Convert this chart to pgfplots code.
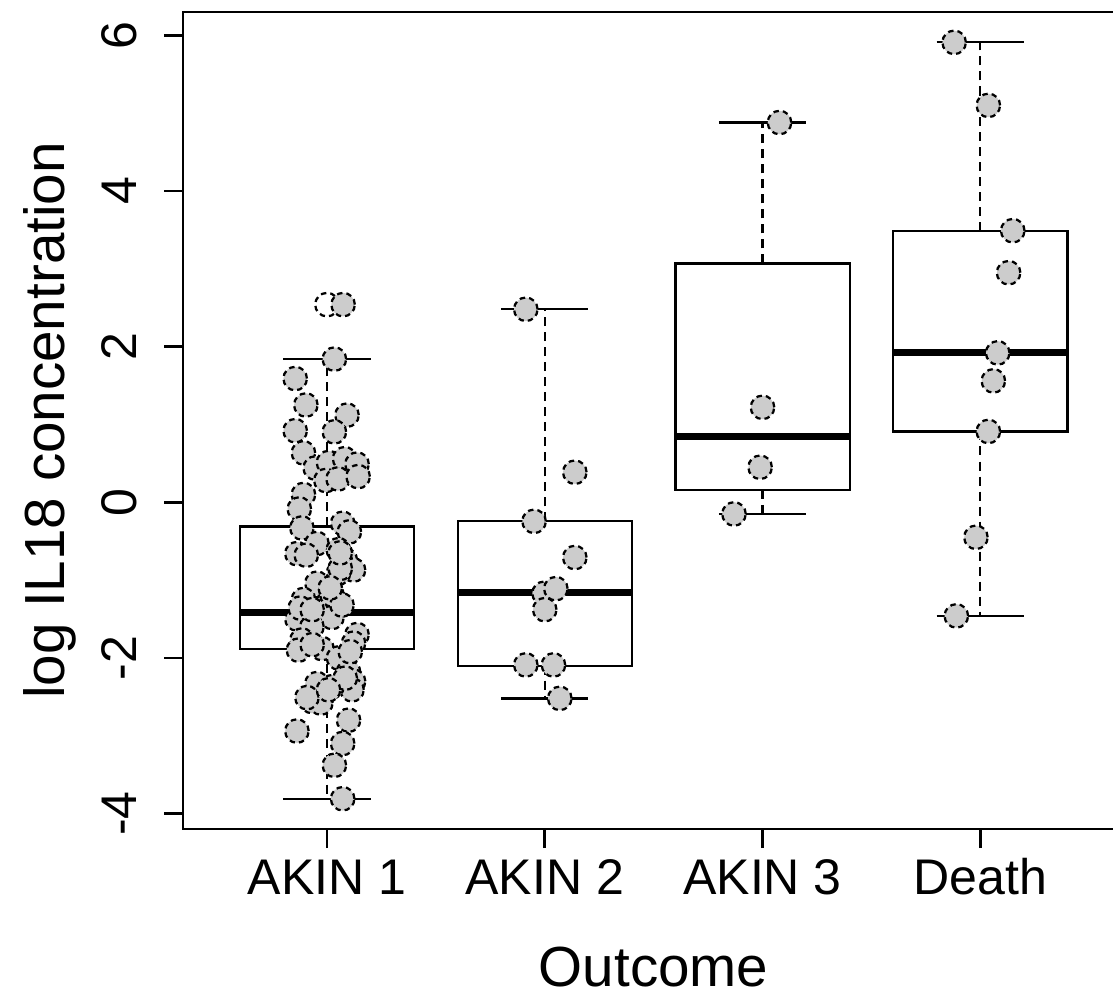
\documentclass[border=0pt]{standalone}
\usepackage{fontspec}
\setmainfont{Liberation Sans}
\usepackage{pgfplots}
\pgfplotsset{compat=1.18}
\usepgfplotslibrary{statistics}
\definecolor{ptgray}{RGB}{204,204,204}

% jittered points, one table per outcome group
\pgfplotstableread{
x y
1.074 2.54
1.034 1.84
0.854 1.59
0.903 1.25
1.092 1.12
0.854 0.92
1.034 0.905
0.892 0.635
0.946 0.44
1.007 0.51
1.081 0.56
1.138 0.49
0.995 0.28
1.051 0.30
1.143 0.33
0.892 0.10
0.873 -0.086
0.885 -0.33
1.072 -0.27
1.103 -0.38
0.954 -0.53
0.862 -0.66
0.905 -0.68
1.052 -0.61
1.084 -0.74
1.122 -0.87
1.053 -0.91
0.954 -1.04
1.015 -1.17
0.892 -1.25
1.053 -1.30
0.969 -1.36
0.862 -1.50
1.023 -1.48
0.931 -1.60
0.885 -1.77
0.869 -1.90
0.977 -1.88
1.138 -1.70
1.122 -1.81
1.053 -2.00
1.099 -2.18
0.954 -2.33
1.122 -2.30
1.115 -2.41
0.931 -2.56
0.972 -2.58
0.862 -2.94
1.099 -2.80
1.072 -3.10
1.034 -3.38
1.072 -3.81
1.023 -1.19
1.069 -1.32
0.877 -1.36
1.107 -1.92
1.023 -2.37
0.908 -2.51
1.084 -2.26
0.932 -1.38
0.932 -1.83
1.007 -2.41
1.061 -0.85
1.015 -1.10
1.061 -0.65
}\akinone
\pgfplotstableread{
x y
1.913 2.48
2.138 0.386
1.951 -0.245
2.138 -0.71
1.997 -1.17
2.051 -1.11
2.000 -1.38
1.913 -2.09
2.040 -2.09
2.069 -2.52
}\akintwo
\pgfplotstableread{
x y
3.078 4.88
3.000 1.22
2.989 0.45
2.869 -0.15
}\akinthree
\pgfplotstableread{
x y
3.880 5.91
4.037 5.10
4.149 3.49
4.130 2.95
4.080 1.92
4.060 1.56
4.037 0.91
3.980 -0.45
3.890 -1.46
}\death

\begin{document}
\begin{tikzpicture}
\begin{axis}[
    name=ax,
    scale only axis,
    width=187.9pt, height=163.2pt,
    xmin=0.34, xmax=4.66, ymin=-4.2, ymax=6.3,
    xtick={1,2,3,4}, xticklabels={AKIN 1,AKIN 2,AKIN 3,Death},
    ytick={-4,-2,0,2,4,6}, yticklabels={-4,-2,0,2,4,6},
    tick align=outside, major tick length=3.8pt,
    xtick pos=left, ytick pos=left,
    tick style={line width=0.5pt, black},
    axis line style={line width=0.5pt},
    ticklabel style={font=\fontsize{10}{12}\selectfont},
    xticklabel style={anchor=base},
    yticklabel style={rotate=90, anchor=base},
    xticklabel shift=9.2pt, yticklabel shift=5.6pt,
    boxplot/draw direction=y,
    boxplot/box extend=0.8,
    boxplot/whisker extend=0.4,
    boxplot/every box/.style={line width=0.45pt},
    boxplot/every median/.style={line width=1.4pt},
    boxplot/draw/lower whisker/.code={%
        \draw[line width=0.45pt, dash pattern=on 1.8pt off 1.2pt]
            (boxplot cs:\pgfplotsboxplotvalue{lower quartile}) --
            (boxplot cs:\pgfplotsboxplotvalue{lower whisker});
        \draw[line width=0.45pt, solid]
            (boxplot whisker cs:\pgfplotsboxplotvalue{lower whisker},0) --
            (boxplot whisker cs:\pgfplotsboxplotvalue{lower whisker},1);
    },
    boxplot/draw/upper whisker/.code={%
        \draw[line width=0.45pt, dash pattern=on 1.8pt off 1.2pt]
            (boxplot cs:\pgfplotsboxplotvalue{upper quartile}) --
            (boxplot cs:\pgfplotsboxplotvalue{upper whisker});
        \draw[line width=0.45pt, solid]
            (boxplot whisker cs:\pgfplotsboxplotvalue{upper whisker},0) --
            (boxplot whisker cs:\pgfplotsboxplotvalue{upper whisker},1);
    },
    pts/.style={only marks, mark=*, mark size=2.35pt,
        mark options={fill=ptgray, draw=black, line width=0.45pt,
            dash pattern=on 1.1pt off 0.8pt}},
]
% boxes
\addplot[draw=black, boxplot prepared={draw position=1,
    lower whisker=-3.81, lower quartile=-1.89, median=-1.42,
    upper quartile=-0.31, upper whisker=1.84}] coordinates {};
\addplot[draw=black, boxplot prepared={draw position=2,
    lower whisker=-2.52, lower quartile=-2.10, median=-1.16,
    upper quartile=-0.245, upper whisker=2.48}] coordinates {};
\addplot[draw=black, boxplot prepared={draw position=3,
    lower whisker=-0.15, lower quartile=0.16, median=0.84,
    upper quartile=3.07, upper whisker=4.88}] coordinates {};
\addplot[draw=black, boxplot prepared={draw position=4,
    lower whisker=-1.46, lower quartile=0.91, median=1.92,
    upper quartile=3.49, upper whisker=5.91}] coordinates {};
% boxplot outlier (hollow)
\addplot[only marks, mark=o, mark size=2.35pt,
    mark options={draw=black, line width=0.45pt,
        dash pattern=on 1.1pt off 0.8pt}] coordinates {(1,2.54)};
% jittered observations
\addplot[pts] table[x=x, y=y] {\akinone};
\addplot[pts] table[x=x, y=y] {\akintwo};
\addplot[pts] table[x=x, y=y] {\akinthree};
\addplot[pts] table[x=x, y=y] {\death};
\end{axis}
\node[rotate=90, anchor=base, font=\fontsize{11.3}{13}\selectfont]
    at ([xshift=-23.7pt]ax.west) {log IL18 concentration};
\node[anchor=base, font=\fontsize{11.3}{13}\selectfont]
    at ([yshift=-31.4pt]ax.south) {Outcome};
\pgfresetboundingbox
\path[use as bounding box] ([shift={(-36.6pt,-32.6pt)}]ax.south west)
    rectangle ([shift={(-2.2pt,2.4pt)}]ax.north east);
\end{tikzpicture}
\end{document}
